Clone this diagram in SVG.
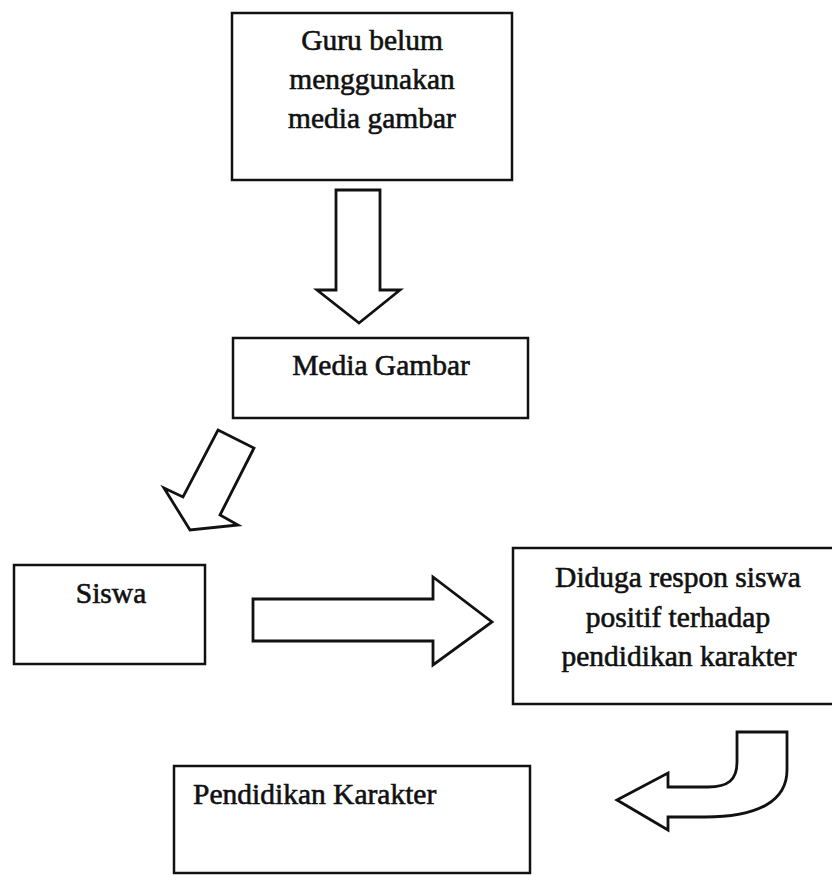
<svg xmlns="http://www.w3.org/2000/svg" width="832" height="875" viewBox="0 0 832 875">
<style>
.box{fill:#fff;stroke:#111;stroke-width:2.5}
.arr{fill:#fff;stroke:#111;stroke-width:2.8;stroke-linejoin:miter}
.t{font-family:"Liberation Serif","Times New Roman",serif;font-size:29.5px;fill:#111;stroke:#111;stroke-width:0.6}
.c{text-anchor:middle}
</style>
<rect width="832" height="875" fill="#fff"/>
<g id="connectors">
<path class="arr" d="M336,190 L380,190 L380,290 L400,290 L359,323 L317,290 L336,290 Z"/>
<path class="arr" d="M218,430 L254,448 L220,515 L238,525 L190,530 L164,488 L183,497 Z"/>
<path class="arr" d="M253,599 L433,599 L433,577 L492,622 L433,665 L433,641 L253,641 Z"/>
<path class="arr" d="M617,800 L668,773 L668,787 L708,787 C728,787 737,780 737,762 L737,732 L787,732 L787,770 C787,800 760,817 705,817 L668,817 L668,830 Z"/>
</g>
<g id="node-guru">
<rect class="box" x="232" y="13" width="280" height="167"/>
<text class="t c" x="372" y="50">Guru belum</text>
<text class="t c" x="372" y="89">menggunakan</text>
<text class="t c" x="372" y="128">media gambar</text>
</g>
<g id="node-media">
<rect class="box" x="233" y="338" width="295" height="80"/>
<text class="t c" x="381" y="375">Media Gambar</text>
</g>
<g id="node-siswa">
<rect class="box" x="14" y="565" width="191" height="99"/>
<text class="t c" x="111" y="603">Siswa</text>
</g>
<g id="node-diduga">
<rect class="box" x="513" y="548" width="335" height="156"/>
<text class="t c" x="678" y="587">Diduga respon siswa</text>
<text class="t c" x="678" y="627">positif terhadap</text>
<text class="t c" x="679" y="666">pendidikan karakter</text>
</g>
<g id="node-pendidikan">
<rect class="box" x="174" y="766" width="356" height="107"/>
<text class="t" x="193" y="804">Pendidikan Karakter</text>
</g>
</svg>
